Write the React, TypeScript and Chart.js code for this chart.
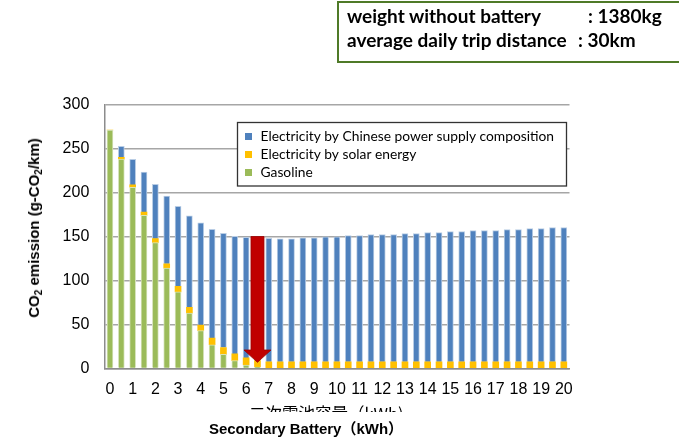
import React, { useEffect, useRef } from "react";
import { Chart, registerables } from "chart.js";

Chart.register(...registerables);

// Secondary battery capacity (kWh)
const capacities = [
  "0", "0.5", "1", "1.5", "2", "2.5", "3", "3.5", "4", "4.5",
  "5", "5.5", "6", "6.5", "7", "7.5", "8", "8.5", "9", "9.5",
  "10", "10.5", "11", "11.5", "12", "12.5", "13", "13.5", "14", "14.5",
  "15", "15.5", "16", "16.5", "17", "17.5", "18", "18.5", "19", "19.5", "20",
];

// CO2 emission (g-CO2/km)
const gasoline = [
  271, 238, 206, 174, 143, 114, 87, 63, 43, 27,
  16, 9, 4, 1.7, 0, 0, 0, 0, 0, 0,
  0, 0, 0, 0, 0, 0, 0, 0, 0, 0,
  0, 0, 0, 0, 0, 0, 0, 0, 0, 0, 0,
];
const solar = [
  0, 2, 2.6, 3.8, 4.5, 5, 6.4, 6.4, 6.4, 7.5,
  7.9, 7.6, 8, 7.4, 7.7, 7.7, 7.7, 7.7, 7.7, 7.7,
  7.7, 7.7, 7.7, 7.7, 7.7, 7.7, 7.7, 7.7, 7.7, 7.7,
  7.7, 7.7, 7.7, 7.7, 7.7, 7.7, 7.7, 7.7, 7.7, 7.7, 7.7,
];
const electricity = [
  0, 12.5, 29, 45.4, 61.8, 77, 90.9, 104.2, 116, 123.7,
  129.6, 133.7, 137.1, 139.4, 140.3, 139.7, 139.7, 140.8, 140.8, 142,
  142, 143.4, 143.4, 144.6, 144.6, 144.6, 145.7, 145.7, 146.8, 146.8,
  148, 148, 149.1, 149.1, 149.1, 150.3, 150.3, 151.4, 151.4, 152.5, 152.5,
];

const seriesLabels = [
  "Gasoline",
  "Electricity by solar energy",
  "Electricity by Chinese power supply composition",
];

const yTickValues = [0, 50, 100, 150, 200, 250, 300];

// Red arrow: category index and values it spans
const arrowIndex = 13;
const arrowTopValue = 150;
const arrowHeadValue = 21;
const arrowTipValue = 7;

const FONT_SANS = "'Liberation Sans', Arial, sans-serif";
const FONT_CAL = "Lato, 'Open Sans', sans-serif";

export default function App() {
  const ref = useRef<HTMLCanvasElement | null>(null);

  useEffect(() => {
    const canvas = ref.current;
    if (!canvas) return;

    const legendPlugin = {
      id: "boxLegend",
      afterDraw(chart: any) {
        const ctx = chart.ctx as CanvasRenderingContext2D;
        const metas = chart.data.datasets.slice().reverse();
        const x0 = 237.5, y0 = 122.5, w = 329, h = 63.5;
        ctx.save();
        ctx.fillStyle = "#ffffff";
        ctx.fillRect(x0, y0, w, h);
        ctx.strokeStyle = "#333333";
        ctx.lineWidth = 1.3;
        ctx.strokeRect(x0, y0, w, h);
        ctx.font = `13.8px ${FONT_CAL}`;
        ctx.textBaseline = "middle";
        ctx.textAlign = "left";
        metas.forEach((ds: any, i: number) => {
          const cy = 136.5 + i * 18;
          ctx.fillStyle = ds.backgroundColor;
          ctx.fillRect(245, cy - 3.5, 7, 7);
          ctx.fillStyle = "#000000";
          ctx.fillText(ds.label, 260.5, cy + 0.5);
        });
        ctx.restore();
      },
    };

    const arrowPlugin = {
      id: "redArrow",
      afterDatasetsDraw(chart: any) {
        const ctx = chart.ctx as CanvasRenderingContext2D;
        const xs = chart.scales.x;
        const ys = chart.scales.y;
        const cx = xs.getPixelForValue(arrowIndex);
        const yTop = ys.getPixelForValue(arrowTopValue);
        const yHead = ys.getPixelForValue(arrowHeadValue);
        const yTip = ys.getPixelForValue(arrowTipValue);
        const sw = 6.5;
        const hw = 13.5;
        ctx.save();
        ctx.beginPath();
        ctx.moveTo(cx - sw, yTop);
        ctx.lineTo(cx + sw, yTop);
        ctx.lineTo(cx + sw, yHead);
        ctx.lineTo(cx + hw, yHead);
        ctx.lineTo(cx, yTip);
        ctx.lineTo(cx - hw, yHead);
        ctx.lineTo(cx - sw, yHead);
        ctx.closePath();
        ctx.fillStyle = "#c00000";
        ctx.fill();
        ctx.strokeStyle = "#9a0000";
        ctx.lineWidth = 0.8;
        ctx.stroke();
        ctx.restore();
      },
    };

    const chart = new Chart(canvas, {
      type: "bar",
      data: {
        labels: capacities,
        datasets: [
          {
            label: seriesLabels[0],
            data: gasoline,
            backgroundColor: "#9bbb59",
            borderColor: "#d7e4bd",
            borderWidth: 1,
            barThickness: 6,
          },
          {
            label: seriesLabels[1],
            data: solar,
            backgroundColor: "#ffc000",
            borderWidth: 0,
            barThickness: 6,
          },
          {
            label: seriesLabels[2],
            data: electricity,
            backgroundColor: "#4f81bd",
            borderColor: "#b9cde5",
            borderWidth: 1,
            barThickness: 6,
          },
        ],
      },
      options: {
        responsive: false,
        animation: false,
        devicePixelRatio: 1,
        layout: { padding: { left: 0, right: 109.5, top: 104.5, bottom: 0 } },
        plugins: {
          legend: { display: false },
          tooltip: { enabled: false },
          title: { display: false },
        },
        scales: {
          x: {
            stacked: true,
            grid: { display: false, drawTicks: false },
            border: { color: "#8c8c8c", width: 1.5 },
            afterFit: (s: any) => {
              s.height = 68.5;
            },
            ticks: {
              autoSkip: false,
              minRotation: 0,
              maxRotation: 0,
              padding: 11,
              color: "#000000",
              font: { family: FONT_SANS, size: 16 },
              callback: (_v: any, i: number) =>
                capacities[i].indexOf(".") === -1 ? capacities[i] : "",
            },
          },
          y: {
            stacked: true,
            min: 0,
            max: 300,
            afterFit: (s: any) => {
              s.width = 104.3;
            },
            afterBuildTicks: (s: any) => {
              s.ticks = yTickValues.map((v) => ({ value: v }));
            },
            grid: { color: "#a6a6a6", lineWidth: 1.5, drawTicks: false },
            border: { color: "#8c8c8c", width: 1.5 },
            ticks: {
              padding: 15,
              color: "#000000",
              font: { family: FONT_SANS, size: 16 },
            },
          },
        },
      },
      plugins: [arrowPlugin, legendPlugin],
    } as any);

    return () => chart.destroy();
  }, []);

  return (
    <div
      style={{
        position: "fixed",
        left: 0,
        top: 0,
        width: 679,
        height: 437,
        background: "#ffffff",
        overflow: "hidden",
      }}
    >
      <canvas
        ref={ref}
        width={679}
        height={437}
        style={{ position: "absolute", left: 0, top: 0, width: 679, height: 437 }}
      />
      {/* Info box */}
      <div
        style={{
          position: "absolute",
          left: 337,
          top: 1,
          width: 400,
          height: 58,
          border: "2px solid #4f7a28",
          boxSizing: "content-box",
        }}
      />
      {[
        { t: "weight without battery", x: 347, y: 6 },
        { t: ": 1380kg", x: 588, y: 6 },
        { t: "average daily trip distance", x: 347, y: 29.5 },
        { t: ": 30km", x: 578, y: 29.5 },
      ].map((it, i) => (
        <div
          key={i}
          style={{
            position: "absolute",
            left: it.x,
            top: it.y,
            font: `bold 19px ${FONT_CAL}`,
            lineHeight: "20px",
            whiteSpace: "nowrap",
            color: "#000",
          }}
        >
          {it.t}
        </div>
      ))}
      {/* Y axis title */}
      <div
        style={{
          position: "absolute",
          left: 34,
          top: 228,
          transform: "translate(-50%, -50%) rotate(-90deg)",
          whiteSpace: "nowrap",
          font: `bold 15px ${FONT_SANS}`,
          lineHeight: "18px",
          color: "#000",
        }}
      >
        CO<sub style={{ fontSize: 10, verticalAlign: "-3px", lineHeight: 0 }}>2</sub> emission (g-CO
        <sub style={{ fontSize: 10, verticalAlign: "-3px", lineHeight: 0 }}>2</sub>/km)
      </div>
      {/* Clipped Japanese axis title */}
      <div
        style={{
          position: "absolute",
          left: 240,
          top: 398,
          width: 180,
          height: 14,
          overflow: "hidden",
        }}
      >
        <div
          style={{
            position: "absolute",
            left: 9,
            top: 7,
            font: `16.5px 'Noto Sans CJK JP', sans-serif`,
            lineHeight: "17px",
            whiteSpace: "nowrap",
            color: "#000",
          }}
        >
          二次電池容量（kWh)
        </div>
      </div>
      {/* X axis title */}
      <div
        style={{
          position: "absolute",
          left: 306,
          top: 421,
          transform: "translateX(-50%)",
          whiteSpace: "nowrap",
          font: `bold 15px ${FONT_SANS}, 'Noto Sans CJK JP'`,
          lineHeight: "15px",
          color: "#000",
        }}
      >
        Secondary Battery（kWh）
      </div>
    </div>
  );
}
